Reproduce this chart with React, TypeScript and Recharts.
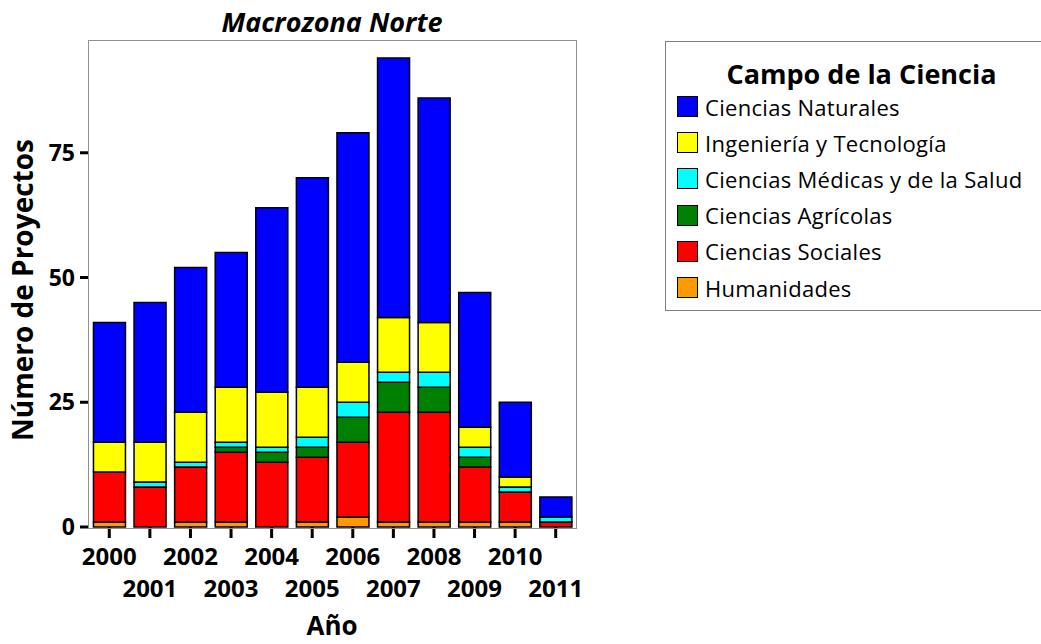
import React from "react";
import { BarChart, Bar, XAxis, YAxis } from "recharts";

const years = ["2000", "2001", "2002", "2003", "2004", "2005", "2006", "2007", "2008", "2009", "2010", "2011"];

// stacked bottom to top
const humanidades = [1, 0, 1, 1, 0, 1, 2, 1, 1, 1, 1, 0];
const sociales = [10, 8, 11, 14, 13, 13, 15, 22, 22, 11, 6, 1];
const agricolas = [0, 0, 0, 1, 2, 2, 5, 6, 5, 2, 0, 0];
const medicas = [0, 1, 1, 1, 1, 2, 3, 2, 3, 2, 1, 1];
const ingenieria = [6, 8, 10, 11, 11, 10, 8, 11, 10, 4, 2, 0];
const naturales = [24, 28, 29, 27, 37, 42, 46, 52, 45, 27, 15, 4];

const yTicks = [0, 25, 50, 75];

const series = [
  { key: "hum", name: "Humanidades", color: "#FF9900", values: humanidades },
  { key: "soc", name: "Ciencias Sociales", color: "#FF0000", values: sociales },
  { key: "agr", name: "Ciencias Agrícolas", color: "#008000", values: agricolas },
  { key: "med", name: "Ciencias Médicas y de la Salud", color: "#00FFFF", values: medicas },
  { key: "ing", name: "Ingeniería y Tecnología", color: "#FFFF00", values: ingenieria },
  { key: "nat", name: "Ciencias Naturales", color: "#0000FF", values: naturales },
];

const data = years.map((year, i) => {
  const row: Record<string, string | number> = { year };
  series.forEach((s) => (row[s.key] = s.values[i]));
  return row;
});

const FONT = "'Open Sans', 'DejaVu Sans', sans-serif";

const YearTick = (props: any) => {
  const { x, y, payload } = props;
  const idx = years.indexOf(payload.value);
  const dy = idx % 2 === 0 ? 26 : 58;
  return (
    <text x={x} y={y + dy} textAnchor="middle" fontFamily={FONT} fontWeight="bold" fontSize={24} fill="#000">
      {payload.value}
    </text>
  );
};

const App: React.FC = () => {
  return (
    <div style={{ position: "absolute", left: 0, top: 0, width: 1041, height: 644, background: "#fff", fontFamily: FONT }}>
      <div
        style={{
          position: "absolute",
          left: 132,
          width: 400,
          top: 8,
          textAlign: "center",
          fontSize: 27,
          lineHeight: "27px",
          fontWeight: "bold",
          fontStyle: "italic",
        }}
      >
        Macrozona Norte
      </div>

      <BarChart
        width={1041}
        height={644}
        data={data}
        margin={{ top: 41, right: 465, bottom: 0, left: 0 }}
        barCategoryGap="11%"
      >
        <XAxis
          dataKey="year"
          height={117}
          interval={0}
          axisLine={false}
          tickLine={{ stroke: "#000", strokeWidth: 3 }}
          tickSize={11}
          tickMargin={1}
          tick={<YearTick />}
          label={{
            content: () => (
              <text x={332} y={635} textAnchor="middle" fontFamily={FONT} fontWeight="bold" fontSize={26} fill="#000">
                Año
              </text>
            ),
          }}
        />
        <YAxis
          width={89}
          domain={[0, 97.4]}
          ticks={yTicks}
          axisLine={false}
          tickLine={{ stroke: "#000", strokeWidth: 3 }}
          tickSize={9}
          tickMargin={5}
          tick={{ fontFamily: FONT, fontWeight: "bold", fontSize: 23, fill: "#000" }}
          label={{
            content: () => (
              <text
                x={33}
                y={290}
                transform="rotate(-90 33 290)"
                textAnchor="middle"
                fontFamily={FONT}
                fontWeight="bold"
                fontSize={28}
                fill="#000"
              >
                Número de Proyectos
              </text>
            ),
          }}
        />
        {series.map((s) => (
          <Bar
            key={s.key}
            dataKey={s.key}
            name={s.name}
            stackId="a"
            fill={s.color}
            stroke="#000"
            strokeWidth={1.5}
            isAnimationActive={false}
          />
        ))}
      </BarChart>

      {/* plot frame */}
      <div
        style={{
          position: "absolute",
          left: 88,
          top: 40,
          width: 487,
          height: 487,
          border: "1.5px solid #909090",
          pointerEvents: "none",
        }}
      />

      {/* legend */}
      <div
        style={{
          position: "absolute",
          left: 665,
          top: 41,
          width: 391,
          height: 270,
          border: "1px solid #808080",
          boxSizing: "border-box",
        }}
      >
        <div
          style={{
            position: "absolute",
            left: 0,
            width: 391,
            top: 18,
            textAlign: "center",
            fontSize: 27,
            lineHeight: "27px",
            fontWeight: "bold",
          }}
        >
          Campo de la Ciencia
        </div>
        {[...series].reverse().map((s, i) => (
          <div
            key={s.key}
            style={{
              position: "absolute",
              left: 11,
              top: 64.5 + i * 36.2 - 18,
              height: 36,
              display: "flex",
              alignItems: "center",
              whiteSpace: "nowrap",
              fontSize: 22,
              letterSpacing: 0.3,
            }}
          >
            <span
              style={{
                display: "inline-block",
                width: 19,
                height: 19,
                background: s.color,
                border: "1.5px solid #000",
                marginRight: 7,
              }}
            />
            <span>{s.name}</span>
          </div>
        ))}
      </div>
    </div>
  );
};

export default App;
